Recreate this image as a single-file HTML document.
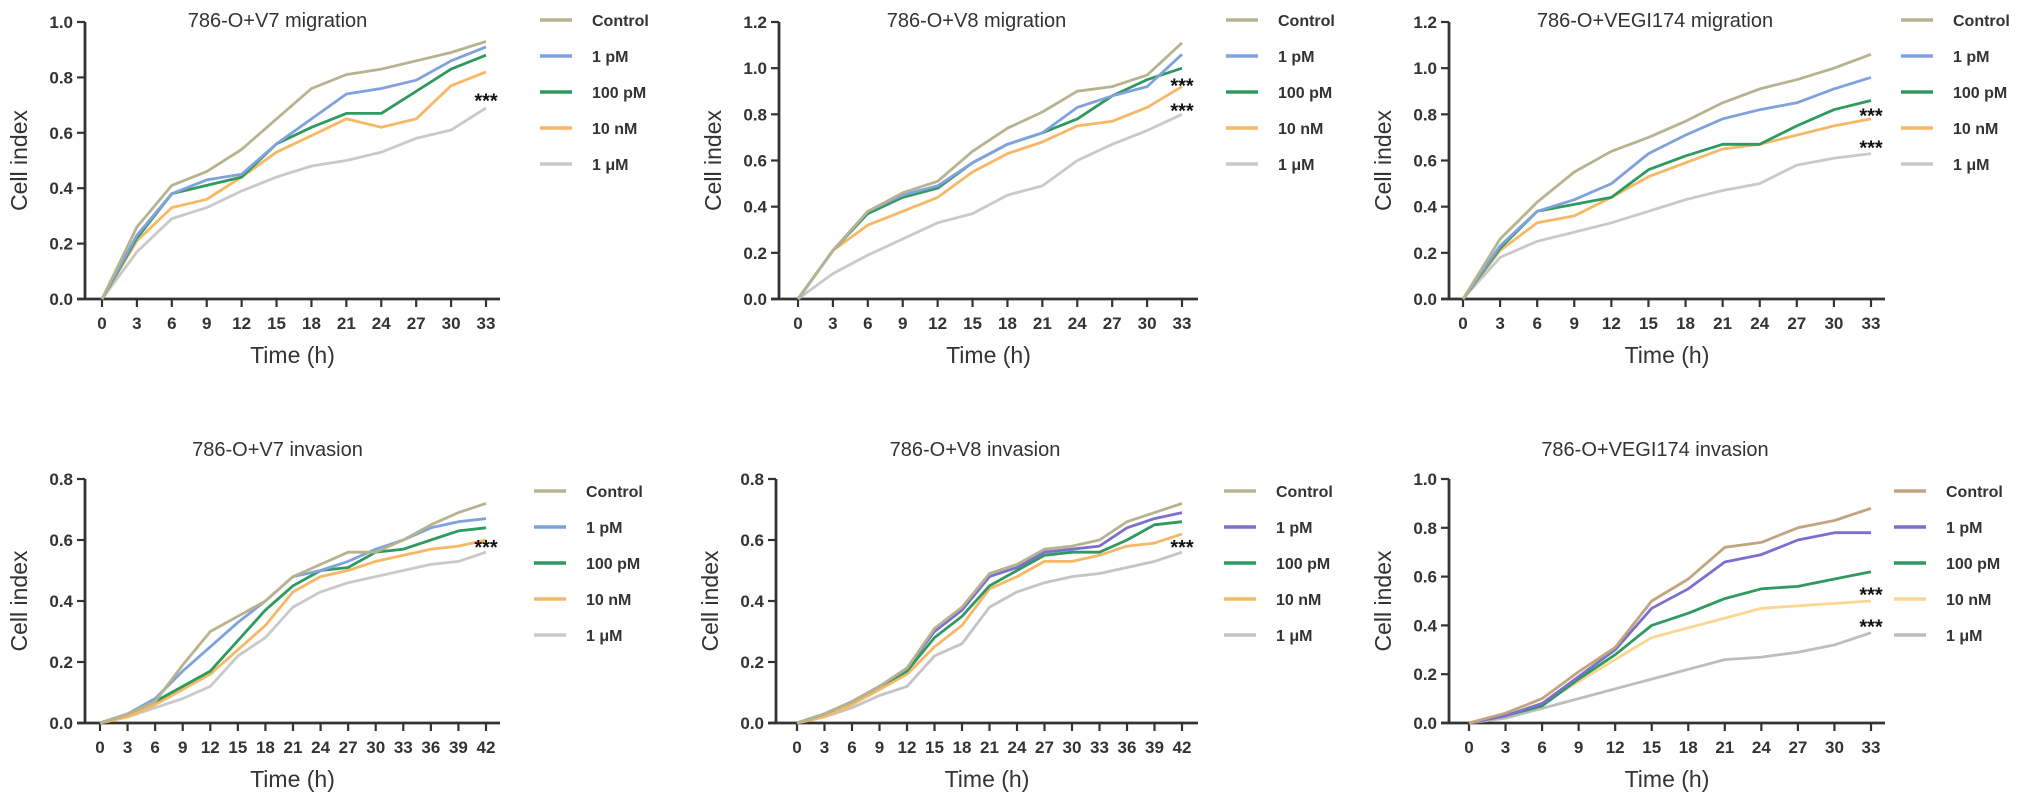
<!DOCTYPE html>
<html><head><meta charset="utf-8"><style>
body{margin:0;background:#fff}
svg{display:block;font-family:"Liberation Sans",Arial,sans-serif}
.tk{font-size:17px;font-weight:bold;fill:#333}
.ttl{font-size:20px;fill:#333}
.ax{font-size:23px;fill:#333}
.lg{font-size:16px;font-weight:bold;fill:#333}
</style></head><body>
<svg id="fig" width="2031" height="806" viewBox="0 0 2031 806"></svg>
<script>
const seriesNames=["Control","1 pM","100 pM","10 nM","1 μM"];
const t33=[0,3,6,9,12,15,18,21,24,27,30,33];
const t42=[0,3,6,9,12,15,18,21,24,27,30,33,36,39,42];
const p1Control=[0,0.26,0.41,0.46,0.54,0.65,0.76,0.81,0.83,0.86,0.89,0.93];
const p1pM1=[0,0.23,0.38,0.43,0.45,0.56,0.65,0.74,0.76,0.79,0.86,0.91];
const p1pM100=[0,0.22,0.38,0.41,0.44,0.56,0.62,0.67,0.67,0.75,0.83,0.88];
const p1nM10=[0,0.21,0.33,0.36,0.44,0.53,0.59,0.65,0.62,0.65,0.77,0.82];
const p1uM1=[0,0.17,0.29,0.33,0.39,0.44,0.48,0.50,0.53,0.58,0.61,0.69];
const p2Control=[0,0.21,0.38,0.46,0.51,0.64,0.74,0.81,0.90,0.92,0.97,1.11];
const p2pM1=[0,0.21,0.38,0.45,0.49,0.59,0.67,0.72,0.83,0.88,0.92,1.06];
const p2pM100=[0,0.21,0.37,0.44,0.48,0.59,0.67,0.72,0.78,0.88,0.95,1.00];
const p2nM10=[0,0.21,0.32,0.38,0.44,0.55,0.63,0.68,0.75,0.77,0.83,0.92];
const p2uM1=[0,0.11,0.19,0.26,0.33,0.37,0.45,0.49,0.60,0.67,0.73,0.80];
const p3Control=[0,0.26,0.42,0.55,0.64,0.70,0.77,0.85,0.91,0.95,1.00,1.06];
const p3pM1=[0,0.23,0.38,0.43,0.50,0.63,0.71,0.78,0.82,0.85,0.91,0.96];
const p3pM100=[0,0.22,0.38,0.41,0.44,0.56,0.62,0.67,0.67,0.75,0.82,0.86];
const p3nM10=[0,0.21,0.33,0.36,0.44,0.53,0.59,0.65,0.67,0.71,0.75,0.78];
const p3uM1=[0,0.18,0.25,0.29,0.33,0.38,0.43,0.47,0.50,0.58,0.61,0.63];
const p4Control=[0,0.03,0.07,0.19,0.30,0.35,0.40,0.48,0.52,0.56,0.56,0.60,0.65,0.69,0.72];
const p4pM1=[0,0.03,0.08,0.17,0.25,0.33,0.40,0.48,0.50,0.53,0.57,0.60,0.64,0.66,0.67];
const p4pM100=[0,0.03,0.07,0.12,0.17,0.27,0.37,0.45,0.50,0.51,0.56,0.57,0.60,0.63,0.64];
const p4nM10=[0,0.02,0.06,0.11,0.16,0.24,0.32,0.43,0.48,0.50,0.53,0.55,0.57,0.58,0.60];
const p4uM1=[0,0.02,0.05,0.08,0.12,0.22,0.28,0.38,0.43,0.46,0.48,0.50,0.52,0.53,0.56];
const p5Control=[0,0.03,0.07,0.12,0.18,0.31,0.38,0.49,0.52,0.57,0.58,0.60,0.66,0.69,0.72];
const p5pM1=[0,0.03,0.07,0.12,0.18,0.30,0.37,0.48,0.51,0.56,0.57,0.58,0.64,0.67,0.69];
const p5pM100=[0,0.03,0.07,0.12,0.17,0.28,0.35,0.45,0.50,0.55,0.56,0.56,0.60,0.65,0.66];
const p5nM10=[0,0.02,0.06,0.11,0.16,0.25,0.32,0.44,0.48,0.53,0.53,0.55,0.58,0.59,0.62];
const p5uM1=[0,0.02,0.05,0.09,0.12,0.22,0.26,0.38,0.43,0.46,0.48,0.49,0.51,0.53,0.56];
const p6Control=[0,0.04,0.10,0.21,0.31,0.50,0.59,0.72,0.74,0.80,0.83,0.88];
const p6pM1=[0,0.03,0.08,0.19,0.30,0.47,0.55,0.66,0.69,0.75,0.78,0.78];
const p6pM100=[0,0.03,0.07,0.18,0.28,0.40,0.45,0.51,0.55,0.56,0.59,0.62];
const p6nM10=[0,0.03,0.08,0.17,0.26,0.35,0.39,0.43,0.47,0.48,0.49,0.50];
const p6uM1=[0,0.02,0.06,0.10,0.14,0.18,0.22,0.26,0.27,0.29,0.32,0.37];
const yTicks10=[0,0.2,0.4,0.6,0.8,1.0];
const yTicks12=[0,0.2,0.4,0.6,0.8,1.0,1.2];
const yTicks08=[0,0.2,0.4,0.6,0.8];
const stars1=[0.72];const stars2=[0.93,0.82];const stars3=[0.80,0.66];
const stars4=[0.58];const stars5=[0.58];const stars6=[0.53,0.40];
const titles=["786-O+V7 migration","786-O+V8 migration","786-O+VEGI174 migration","786-O+V7 invasion","786-O+V8 invasion","786-O+VEGI174 invasion"];

const NS="http://www.w3.org/2000/svg";
const svg=document.getElementById('fig');
function mk(tag,attrs,parent,txt){const e=document.createElementNS(NS,tag);for(const k in attrs)e.setAttribute(k,attrs[k]);if(txt!==undefined)e.textContent=txt;parent.appendChild(e);return e;}
const colA=["#b7b38f","#7fa2dc","#2f9a60","#f7b866","#c9c9c9"];
const colB=["#b7b38f","#7b6fcf","#2f9a60","#f7b866","#c4c4c4"];
const colC=["#c2a47f","#7b6fcf","#2f9a60","#f9d78f","#bdbdbd"];
const panels=[
 {ax:85,x0:102,x1:486,xe:500,yt:22,yb:299,ymax:1.0,yt_:yTicks10,t:t33,d:[p1Control,p1pM1,p1pM100,p1nM10,p1uM1],st:stars1,lx:540,cols:colA,ly0:20},
 {ax:779,x0:798,x1:1182,xe:1198,yt:22,yb:299,ymax:1.2,yt_:yTicks12,t:t33,d:[p2Control,p2pM1,p2pM100,p2nM10,p2uM1],st:stars2,lx:1226,cols:colA,ly0:20},
 {ax:1449,x0:1463,x1:1871,xe:1885,yt:22,yb:299,ymax:1.2,yt_:yTicks12,t:t33,d:[p3Control,p3pM1,p3pM100,p3nM10,p3uM1],st:stars3,lx:1901,cols:colA,ly0:20},
 {ax:85,x0:100,x1:486,xe:500,yt:479,yb:723,ymax:0.8,yt_:yTicks08,t:t42,d:[p4Control,p4pM1,p4pM100,p4nM10,p4uM1],st:stars4,lx:534,cols:colA,ly0:491},
 {ax:776,x0:797,x1:1182,xe:1198,yt:479,yb:723,ymax:0.8,yt_:yTicks08,t:t42,d:[p5Control,p5pM1,p5pM100,p5nM10,p5uM1],st:stars5,lx:1224,cols:colB,ly0:491},
 {ax:1449,x0:1469,x1:1871,xe:1885,yt:479,yb:723,ymax:1.0,yt_:yTicks10,t:t33,d:[p6Control,p6pM1,p6pM100,p6nM10,p6uM1],st:stars6,lx:1894,cols:colC,ly0:491}
];
panels.forEach((p,i)=>{
 const g=mk('g',{},svg);
 
 
 const tmax=p.t[p.t.length-1];
 const X=v=>p.x0+(p.x1-p.x0)*v/tmax;
 const Y=v=>p.yb-(p.yb-p.yt)*v/p.ymax;
 const ya=mk('line',{x1:p.ax,y1:p.yt,x2:p.ax,y2:p.yb,stroke:"#333","stroke-width":2.8},g);
 
 const xa=mk('line',{x1:p.ax-8,y1:p.yb,x2:p.xe,y2:p.yb,stroke:"#333","stroke-width":2.8},g);
 
 p.yt_.forEach(v=>{
  mk('line',{x1:p.ax-8,y1:Y(v),x2:p.ax,y2:Y(v),stroke:"#333","stroke-width":2.2},g);
  const tl=mk('text',{x:p.ax-12,y:Y(v)+6,"text-anchor":"end",class:"tk"},g,v.toFixed(1));
  
 });
 p.t.forEach(v=>{
  mk('line',{x1:X(v),y1:p.yb,x2:X(v),y2:p.yb+8,stroke:"#333","stroke-width":2.2},g);
  const tl=mk('text',{x:X(v),y:p.yb+30,"text-anchor":"middle",class:"tk"},g,String(v));
  
 });
 const xt=mk('text',{x:(p.ax+p.xe)/2,y:p.yb+64,"text-anchor":"middle",class:"ax"},g,"Time (h)");
 
 const cy=(p.yt+p.yb)/2;
 const yl=mk('text',{x:p.ax-58,y:cy,"text-anchor":"middle",class:"ax",transform:`rotate(-90 ${p.ax-58} ${cy})`},g,"Cell index");
 
 const tt=mk('text',{x:(p.ax+p.xe)/2+(i%3==0?-15:-12),y:(i<3?27:456),"text-anchor":"middle",class:"ttl"},g,titles[i]);
 
 for(let s=p.d.length-1;s>=0;s--){
  const pts=p.d[s].map((v,k)=>X(p.t[k]).toFixed(1)+","+Y(v).toFixed(1)).join(" ");
  const pl=mk('polyline',{points:pts,fill:"none",stroke:p.cols[s],"stroke-width":2.8,"stroke-linejoin":"round"},g);
  
  
 }
 p.st.forEach(v=>{
  const s=mk('text',{x:X(tmax),y:Y(v)+8,"text-anchor":"middle","font-size":"20","font-weight":"bold",fill:"#111"},g,"***");
  
 });
 seriesNames.forEach((n,s)=>{
  const ly=p.ly0+s*36;
  const le=mk('g',{},g);
  
  mk('line',{x1:p.lx,y1:ly,x2:p.lx+32,y2:ly,stroke:p.cols[s],"stroke-width":3.5},le);
  mk('text',{x:p.lx+52,y:ly+6,class:"lg"},le,n);
 });
});
</script>
</body></html>
